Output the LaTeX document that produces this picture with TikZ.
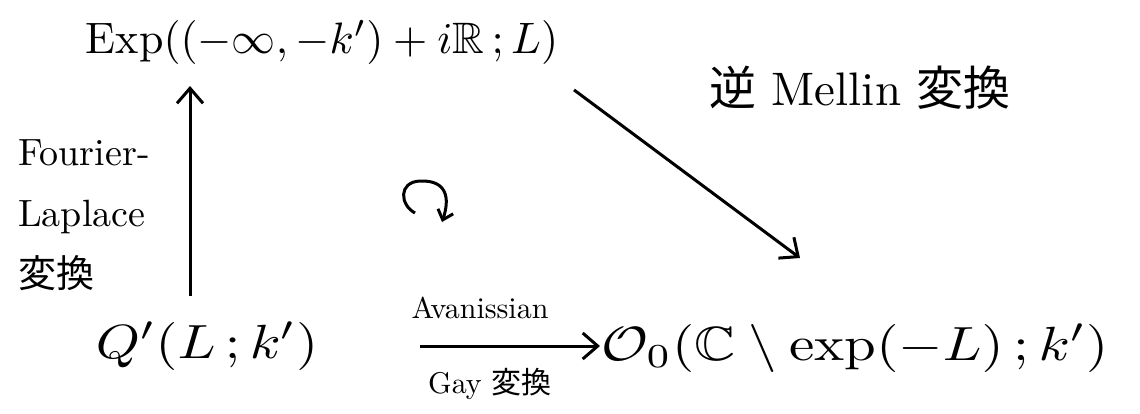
\documentclass[tikz,border=0pt]{standalone}
\usepackage{amssymb}
\usepackage{fontspec}
\newfontfamily\cjk{Noto Sans CJK JP}
\usetikzlibrary{arrows.meta,calc}
\begin{document}
\begin{tikzpicture}[x=1pt,y=-1pt,
  arr/.style={line width=3pt,-{Straight Barb[length=15pt,width=26pt,line width=3pt]}},
  big/.style={scale=4.4,inner sep=0pt},
  lab/.style={scale=3.8,inner sep=0pt,align=left},
  small/.style={scale=3.0,inner sep=0pt}]
\useasboundingbox (0,0) rectangle (1140,413);
\node[big] (E) at (322,42) {$\mathrm{Exp}((-\infty,-k')+i\mathbb{R}\,;L)$};
\node[inner sep=0pt,xscale=5.6,yscale=4.8] (Q) at (207,346) {$Q'(L\,;k')$};
\node[inner sep=0pt,xscale=5.7,yscale=4.8,anchor=west] (O) at (600,348) {$\mathcal{O}_0(\mathbb{C}\setminus\exp(-L)\,;k')$};
\node[lab] (FL) at (84,215) {Fourier-\\[4pt] Laplace\\[4pt] {\cjk 変換}};
\node[scale=4.7,inner sep=0pt] (M) at (860,88) {{\cjk 逆} Mellin {\cjk 変換}};
\draw[arr] (190,296) -- (190,86);
\draw[arr] ($(E.south east)+(15,25)$) -- ($(O.north west)+(200,-65)$);
\coordinate (hs) at (420,346);
\draw[arr] (hs) -- (O.west |- hs);
\node[small] (AV) at (480,308) {Avanissian};
\node[small] (GA) at (490,384) {Gay {\cjk 変換}};
\draw[arr,-{Straight Barb[length=9pt,width=16pt,line width=3pt]}]
  (415,213) .. controls (400,205) and (398,182) .. (420,181)
  .. controls (447,180) and (450,198) .. (442,222);
\end{tikzpicture}
\end{document}
